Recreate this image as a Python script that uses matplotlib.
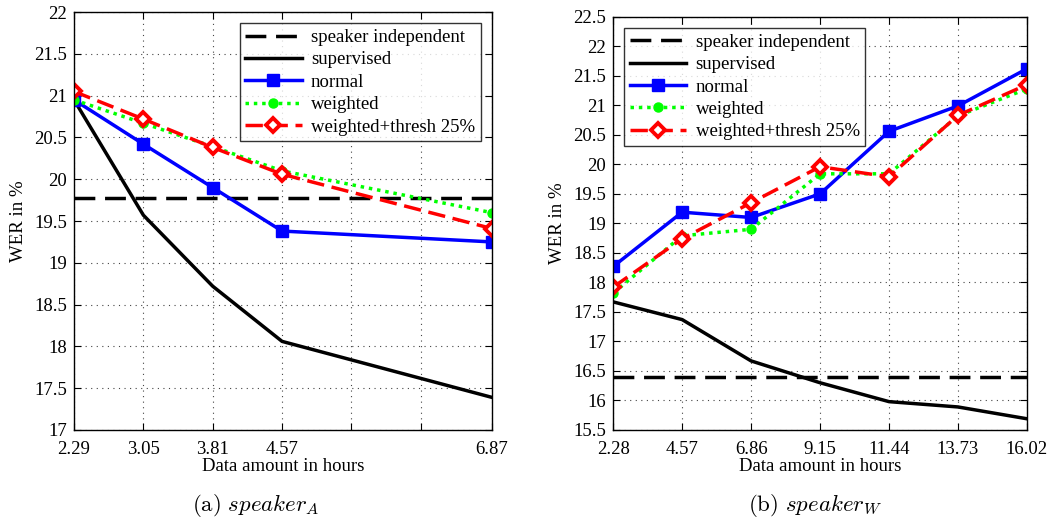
import matplotlib
matplotlib.use("Agg")
import matplotlib.pyplot as plt

plt.rcParams['font.family'] = ['Liberation Serif', 'DejaVu Serif']
plt.rcParams['mathtext.fontset'] = 'cm'

# speaker A
hours_a = [2.29, 3.05, 3.81, 4.57, 6.87]
xticks_a = [2.29, 3.05, 3.81, 4.57, 5.33, 6.09, 6.87]
xticklabels_a = ['2.29', '3.05', '3.81', '4.57', '', '', '6.87']
si_a = 19.77
supervised_a = [20.95, 19.57, 18.72, 18.06, 17.39]
normal_a = [20.95, 20.42, 19.90, 19.38, 19.25]
weighted_a = [20.95, 20.67, 20.39, 20.10, 19.60]
thresh_a = [21.05, 20.72, 20.38, 20.06, 19.41]
yticks_a = [17, 17.5, 18, 18.5, 19, 19.5, 20, 20.5, 21, 21.5, 22]

# speaker W
hours_w = [2.28, 4.57, 6.86, 9.15, 11.44, 13.73, 16.02]
si_w = 16.40
supervised_w = [17.67, 17.37, 16.67, 16.30, 15.98, 15.89, 15.69]
normal_w = [18.27, 19.19, 19.10, 19.50, 20.56, 20.99, 21.62]
weighted_w = [17.82, 18.79, 18.90, 19.84, 19.84, 20.82, 21.28]
thresh_w = [17.92, 18.74, 19.35, 19.96, 19.79, 20.83, 21.35]
yticks_w = [15.5, 16, 16.5, 17, 17.5, 18, 18.5, 19, 19.5, 20, 20.5, 21, 21.5, 22, 22.5]

labels = ['speaker independent', 'supervised', 'normal', 'weighted',
          'weighted+thresh 25%']
FS = 13.5
LW = 2.5

fig = plt.figure(figsize=(10.5, 5.25), dpi=100)
ax1 = fig.add_axes([0.0705, 0.181, 0.398, 0.796])
ax2 = fig.add_axes([0.584, 0.181, 0.394, 0.787])


def draw(ax, x, si, sup, nor, wei, thr):
    ax.plot([x[0], x[-1]], [si, si], color='black', lw=LW, ls=(0, (6, 2.8)),
            label=labels[0])
    ax.plot(x, sup, color='black', lw=LW, label=labels[1])
    ax.plot(x, nor, color='#0000ff', lw=LW, marker='s', ms=8,
            label=labels[2])
    ax.plot(x, wei, color='#00ff00', lw=LW, ls=(0, (1.0, 1.4)), marker='o',
            ms=6.5, label=labels[3])
    ax.plot(x, thr, color='#ff0000', lw=LW, ls=(0, (5, 2.2)), marker='D',
            ms=7.5, mfc='white', mec='#ff0000', mew=2.8, label=labels[4])
    ax.set_xlim(x[0], x[-1])
    ax.grid(True, color='#444444', ls=(0, (1, 4)), lw=0.8)
    ax.tick_params(direction='in', top=True, right=True, labelsize=FS,
                   length=5)
    ax.tick_params(axis='x', pad=8)
    ax.tick_params(axis='y', pad=5)
    for s in ax.spines.values():
        s.set_linewidth(1.0)
    ax.set_xlabel('Data amount in hours', fontsize=FS, labelpad=0)
    ax.set_ylabel('WER in %', fontsize=FS, labelpad=5)


def legend(ax, loc):
    leg = ax.legend(loc=loc, fontsize=FS, frameon=True, fancybox=False,
                    edgecolor='black', handlelength=3.0, borderpad=0.3,
                    labelspacing=0.28, borderaxespad=0.6, handletextpad=0.5)
    leg.get_frame().set_linewidth(1.0)


draw(ax1, hours_a, si_a, supervised_a, normal_a, weighted_a, thresh_a)
ax1.set_ylim(17, 22)
ax1.set_yticks(yticks_a)
ax1.set_yticklabels(['%g' % v for v in yticks_a])
ax1.set_xticks(xticks_a)
ax1.set_xticklabels(xticklabels_a)
legend(ax1, 'upper right')

draw(ax2, hours_w, si_w, supervised_w, normal_w, weighted_w, thresh_w)
ax2.set_ylim(15.5, 22.5)
ax2.set_yticks(yticks_w)
ax2.set_yticklabels(['%g' % v for v in yticks_w])
ax2.set_xticks(hours_w)
ax2.set_xticklabels(['%.2f' % v for v in hours_w])
legend(ax2, 'upper left')

fig.text(0.244, 0.038, r'$\mathrm{(a)}\ speaker_A$', fontsize=16.5,
         ha='center', va='center')
fig.text(0.776, 0.038, r'$\mathrm{(b)}\ speaker_W$', fontsize=16.5,
         ha='center', va='center')

fig.savefig('out.png', dpi=100)
